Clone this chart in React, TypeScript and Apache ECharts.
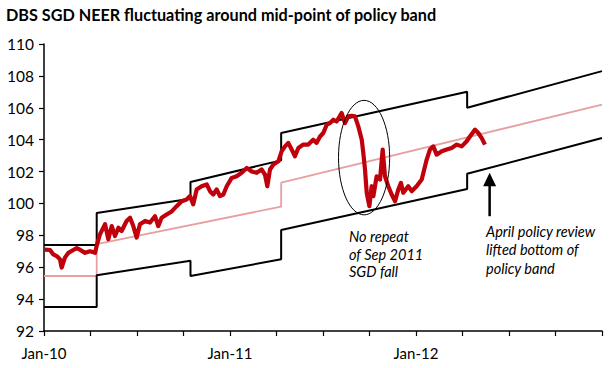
import React, { useEffect, useRef } from 'react';
import * as echarts from 'echarts';

const TITLE = 'DBS SGD NEER fluctuating around mid-point of policy band';

// y axis
const yMin = 92;
const yMax = 110;
const yStep = 2;

// x axis in months since Jan-2010
const xMin = 0;
const xMax = 36;
const xStep = 3;
const labelMonths = [0, 12, 24];
const labelTexts = ['Jan-10', 'Jan-11', 'Jan-12'];

// policy band (top, mid-point, bottom)
const upperMonths = [0, 3.4, 3.4, 9.45, 9.45, 15.3, 15.3, 27.3, 27.3, 36];
const upperValues = [97.4, 97.4, 99.4, 100.3, 101.35, 102.7, 104.42, 107.0, 106.0, 108.3];

const midMonths = [0, 3.4, 3.4, 15.3, 15.3, 36];
const midValues = [95.45, 95.45, 97.45, 99.8, 101.3, 106.2];

const lowerMonths = [0, 3.4, 3.4, 9.45, 9.45, 15.3, 15.3, 27.3, 27.3, 36];
const lowerValues = [93.5, 93.5, 95.5, 96.4, 95.45, 96.5, 98.33, 100.9, 101.86, 104.1];

// DBS SGD NEER
const neerMonths = [
  0.06, 0.39, 0.6, 0.82, 1.03, 1.14, 1.25, 1.35, 1.57, 1.89, 2.11, 2.32, 2.65, 2.97, 3.29,
  3.44, 3.61, 3.94, 4.15, 4.37, 4.58, 4.8, 5.01, 5.33, 5.55, 5.76, 5.98, 6.19, 6.52, 6.84,
  7.16, 7.37, 7.59, 7.91, 8.24, 8.56, 8.88, 9.2, 9.42, 9.63, 9.85, 10.17, 10.5, 10.71, 10.92,
  11.14, 11.35, 11.57, 11.79, 12.11, 12.43, 12.75, 13.08, 13.4, 13.72, 14.04, 14.26, 14.41,
  14.58, 14.8, 15.12, 15.33, 15.55, 15.76, 15.98, 16.19, 16.41, 16.73, 17.05, 17.37, 17.59,
  17.81, 18.02, 18.24, 18.45, 18.67, 18.88, 19.2, 19.42, 19.63, 19.85, 20.06, 20.28, 20.5,
  20.6, 20.71, 20.82, 20.99, 21.14, 21.25, 21.46, 21.68, 21.85, 22.0, 22.21, 22.43, 22.65,
  22.86, 23.03, 23.18, 23.5, 23.72, 24.04, 24.37, 24.69, 24.9, 25.12, 25.33, 25.66, 25.98,
  26.3, 26.63, 26.95, 27.27, 27.48, 27.81, 28.02, 28.24, 28.45,
];
const neerValues = [
  97.1, 97.08, 96.8, 96.7, 96.5, 95.98, 96.3, 96.6, 96.9, 97.08, 97.2, 97.1, 96.9, 97.0, 96.9,
  97.5, 98.06, 98.7, 97.75, 98.58, 97.96, 98.48, 98.27, 98.9, 99.1, 98.58, 97.86, 98.7, 98.9, 98.8,
  99.2, 98.58, 99.1, 99.3, 99.5, 99.83, 100.14, 100.25, 100.46, 99.94, 100.88, 101.08, 101.19, 100.77, 100.56,
  100.88, 100.46, 100.56, 101.08, 101.6, 101.7, 101.92, 102.23, 102.0, 101.92, 102.13, 101.8, 101.08,
  102.13, 102.44, 102.64, 103.27, 103.58, 103.8, 103.38, 102.96, 103.48, 103.69, 103.69, 104.0, 103.8,
  104.2, 104.42, 104.94, 105.04, 105.25, 105.14, 105.67, 105.04, 105.46, 105.5, 105.46, 104.83, 104.0,
  103.17, 102.13, 100.67, 99.83, 101.08, 100.46, 101.7, 101.5, 103.38, 101.7, 101.08, 100.56, 100.14,
  100.88, 101.29, 100.67, 101.08, 100.77, 101.08, 101.5, 102.75, 103.38, 103.58, 103.06, 103.27, 103.38,
  103.48, 103.69, 103.58, 103.9, 104.2, 104.63, 104.42, 104.1, 103.69,
];

// annotations (data coordinates)
const ellipseCenter = [20.65, 102.875];
const ellipseCorner = [22.3, 99.285];
const arrowTop = [28.75, 101.92];
const arrowBottom = [28.75, 99.2];
const noteFall = 'No repeat\nof Sep 2011\nSGD fall';
const noteApril = 'April policy review\nlifted bottom of\npolicy band';

const zip = (a: number[], b: number[]) => a.map((v, i) => [v, b[i]]);

export default function App() {
  const ref = useRef<HTMLDivElement>(null);
  useEffect(() => {
    if (!ref.current) return;
    const chart = echarts.init(ref.current, null, { renderer: 'svg' });
    const font = 'Lato';
    chart.setOption({
      animation: false,
      backgroundColor: '#fff',
      grid: { left: 44, right: 11, top: 44, bottom: 37, containLabel: false },
      xAxis: {
        type: 'value',
        min: xMin,
        max: xMax,
        interval: xStep,
        axisLine: { show: true, lineStyle: { color: '#000', width: 1.5 } },
        axisTick: { show: true, length: 5, lineStyle: { color: '#000', width: 1.2 } },
        splitLine: { show: false },
        axisLabel: {
          margin: 14,
          color: '#000',
          fontSize: 15,
          fontFamily: font,
          formatter: (v: number) => {
            const i = labelMonths.indexOf(Math.round(v));
            return i >= 0 ? labelTexts[i] : '';
          },
        },
      },
      yAxis: {
        type: 'value',
        min: yMin,
        max: yMax,
        interval: yStep,
        axisLine: { show: true, lineStyle: { color: '#000', width: 1.5 } },
        axisTick: { show: true, length: 5, lineStyle: { color: '#000', width: 1.2 } },
        splitLine: { show: false },
        axisLabel: { margin: 10, color: '#000', fontSize: 15.5, fontFamily: font },
      },
      series: [
        {
          type: 'line',
          data: zip(midMonths, midValues),
          showSymbol: false,
          lineStyle: { color: '#e6a0a0', width: 1.8 },
          z: 2,
        },
        {
          type: 'line',
          data: zip(upperMonths, upperValues),
          showSymbol: false,
          lineStyle: { color: '#000', width: 2 },
          z: 3,
        },
        {
          type: 'line',
          data: zip(lowerMonths, lowerValues),
          showSymbol: false,
          lineStyle: { color: '#000', width: 2 },
          z: 3,
        },
        {
          type: 'line',
          data: zip(neerMonths, neerValues),
          showSymbol: false,
          lineStyle: { color: '#c0000b', width: 4.2, join: 'round' },
          z: 4,
        },
      ],
    });

    const c = chart.convertToPixel({ gridIndex: 0 }, ellipseCenter) as number[];
    const e = chart.convertToPixel({ gridIndex: 0 }, ellipseCorner) as number[];
    const at = chart.convertToPixel({ gridIndex: 0 }, arrowTop) as number[];
    const ab = chart.convertToPixel({ gridIndex: 0 }, arrowBottom) as number[];

    chart.setOption({
      graphic: [
        {
          type: 'text',
          left: 6,
          top: 6,
          style: { text: TITLE, font: `bold 16.2px ${font}`, fill: '#000' },
        },
        {
          type: 'ellipse',
          shape: { cx: c[0], cy: c[1], rx: Math.abs(e[0] - c[0]), ry: Math.abs(e[1] - c[1]) },
          style: { fill: 'none', stroke: '#000', lineWidth: 1 },
          z: 10,
        },
        {
          type: 'line',
          shape: { x1: at[0], y1: at[1] + 10, x2: ab[0], y2: ab[1] },
          style: { stroke: '#000', lineWidth: 2.5 },
          z: 10,
        },
        {
          type: 'polygon',
          shape: { points: [[at[0], at[1]], [at[0] - 6.5, at[1] + 13.5], [at[0] + 6.5, at[1] + 13.5]] },
          style: { fill: '#000' },
          z: 10,
        },
        {
          type: 'text',
          x: 349,
          y: 228,
          style: { text: noteFall, font: `italic 14.5px ${font}`, fill: '#000', lineHeight: 17.5 },
          z: 10,
        },
        {
          type: 'text',
          x: 486,
          y: 222,
          style: { text: noteApril, font: `italic 14.5px ${font}`, fill: '#000', lineHeight: 18.5 },
          z: 10,
        },
      ],
    });
    return () => chart.dispose();
  }, []);
  return <div ref={ref} style={{ position: 'fixed', left: 0, top: 0, width: 613, height: 368 }} />;
}
